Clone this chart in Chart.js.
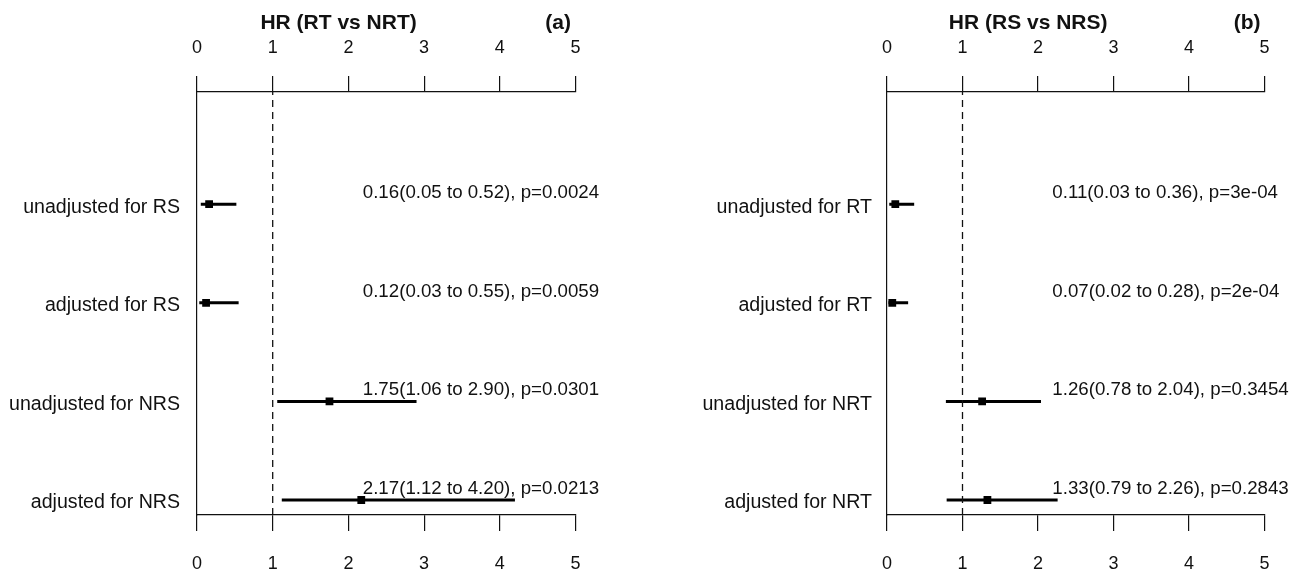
<!DOCTYPE html>
<html>
<head>
<meta charset="utf-8">
<script src="https://cdn.jsdelivr.net/npm/chart.js@4"></script>
<style>
  html, body { margin: 0; padding: 0; background: #fff; }
  .wrap { display: flex; width: 1304px; height: 573px; }
  canvas { display: block; }
</style>
</head>
<body>
<div class="wrap">
  <canvas id="panelA" width="652" height="573"></canvas>
  <canvas id="panelB" width="652" height="573"></canvas>
</div>
<script>
// --- data ---
const rowPos = [4, 3, 2, 1];   // top row first
const xTicks = [0, 1, 2, 3, 4, 5];

// (a) RT vs NRT
const titleA = 'HR (RT vs NRT)';
const tagA = '(a)';
const labelsA = ['unadjusted for RS', 'adjusted for RS', 'unadjusted for NRS', 'adjusted for NRS'];
const hrA = [0.16, 0.12, 1.75, 2.17];
const loA = [0.05, 0.03, 1.06, 1.12];
const hiA = [0.52, 0.55, 2.90, 4.20];
const pA = ['0.0024', '0.0059', '0.0301', '0.0213'];

// (b) RS vs NRS
const titleB = 'HR (RS vs NRS)';
const tagB = '(b)';
const labelsB = ['unadjusted for RT', 'adjusted for RT', 'unadjusted for NRT', 'adjusted for NRT'];
const hrB = [0.11, 0.07, 1.26, 1.33];
const loB = [0.03, 0.02, 0.78, 0.79];
const hiB = [0.36, 0.28, 2.04, 2.26];
const pB = ['3e-04', '2e-04', '0.3454', '0.2843'];

const FONT = "'Liberation Sans', Arial, sans-serif";
const INK = '#111';
const Y_MIN = 0.848, Y_MAX = 5.138;

// text next to each estimate + panel heading
const forestText = {
  id: 'forestText',
  afterDatasetsDraw(chart, args, opts) {
    const ctx = chart.ctx;
    const xs = chart.scales.x, ys = chart.scales.y;
    ctx.save();
    ctx.fillStyle = INK;
    ctx.font = '18.7px ' + FONT;
    ctx.textAlign = 'left';
    ctx.textBaseline = 'alphabetic';
    opts.hr.forEach((h, i) => {
      const s = h.toFixed(2) + '(' + opts.lo[i].toFixed(2) + ' to ' + opts.hi[i].toFixed(2) + '), p=' + opts.p[i];
      ctx.fillText(s, xs.getPixelForValue(2.19), ys.getPixelForValue(rowPos[i]) - 6);
    });
    ctx.font = 'bold 21px ' + FONT;
    ctx.textAlign = 'center';
    ctx.fillText(opts.title, xs.getPixelForValue(1.87), 29);
    ctx.fillText(opts.tag, xs.getPixelForValue(4.77), 29);
    ctx.restore();
  }
};

function makeForest(id, labels, hr, lo, hi, p, title, tag, leftW, rightPad, labelPad) {
  const ciData = [];
  rowPos.forEach((y, i) => {
    ciData.push({x: lo[i], y: y}, {x: hi[i], y: y}, {x: null, y: null});
  });
  const ptData = rowPos.map((y, i) => ({x: hr[i], y: y}));

  const xCommon = {
    type: 'linear', min: 0, max: 5,
    afterBuildTicks: s => { s.ticks = xTicks.map(v => ({value: v})); },
    grid: { display: true, drawOnChartArea: false, drawTicks: true, tickLength: 16, color: INK, lineWidth: 1.2 },
    border: { display: true, color: INK, width: 1.2 },
    ticks: { color: INK, font: { family: FONT, size: 18 }, maxRotation: 0 }
  };

  new Chart(document.getElementById(id), {
    type: 'scatter',
    data: {
      datasets: [
        {
          data: [{x: 1, y: Y_MIN}, {x: 1, y: Y_MAX}],
          showLine: true, borderColor: INK, borderWidth: 1.3, borderDash: [7, 5],
          pointRadius: 0
        },
        {
          data: ciData, showLine: true, spanGaps: false,
          borderColor: '#000', borderWidth: 3, pointRadius: 0
        },
        {
          data: ptData, pointStyle: 'rect', pointRadius: 5.5,
          backgroundColor: '#000', borderColor: '#000', borderWidth: 0
        }
      ]
    },
    options: {
      responsive: false,
      animation: false,
      layout: { padding: { left: 0, right: rightPad, top: 0, bottom: 0 } },
      plugins: {
        legend: { display: false },
        tooltip: { enabled: false },
        forestText: { hr: hr, lo: lo, hi: hi, p: p, title: title, tag: tag }
      },
      scales: {
        x: Object.assign({}, xCommon, {
          position: 'bottom',
          ticks: Object.assign({}, xCommon.ticks, { padding: 22 }),
          afterFit: s => { s.height = 58; }
        }),
        xTop: Object.assign({}, xCommon, {
          position: 'top',
          ticks: Object.assign({}, xCommon.ticks, { padding: 17 }),
          afterFit: s => { s.height = 92; }
        }),
        y: {
          type: 'linear', min: Y_MIN, max: Y_MAX,
          afterBuildTicks: s => { s.ticks = rowPos.map(v => ({value: v})); },
          grid: { display: false, drawTicks: false },
          border: { display: true, color: INK, width: 1.2 },
          ticks: {
            color: INK, font: { family: FONT, size: 19.6 }, padding: labelPad, labelOffset: 3,
            callback: v => labels[rowPos.indexOf(v)]
          },
          afterFit: s => { s.width = leftW; }
        }
      }
    },
    plugins: [forestText]
  });
}

makeForest('panelA', labelsA, hrA, loA, hiA, pA, titleA, tagA, 197, 76.5, 17);
makeForest('panelB', labelsB, hrB, loB, hiB, pB, titleB, tagB, 235, 39.5, 15);
</script>
</body>
</html>
